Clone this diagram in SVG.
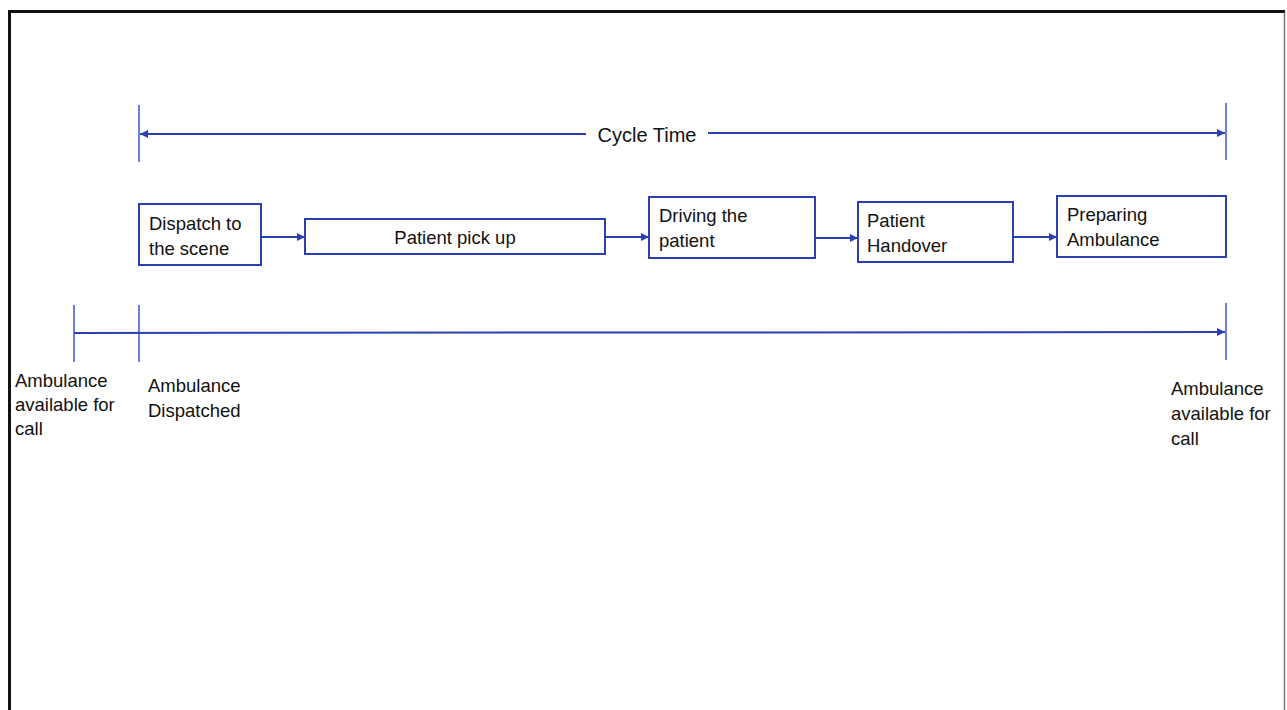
<svg xmlns="http://www.w3.org/2000/svg" width="1287" height="710" viewBox="0 0 1287 710">
<defs>
<marker id="ah" viewBox="0 0 10 10" refX="10" refY="5" markerWidth="9" markerHeight="8" markerUnits="userSpaceOnUse" orient="auto-start-reverse">
<path d="M0,0 L10,5 L0,10 z" fill="#2a40b0"/>
</marker>
<style>
.ln{stroke:#2a40b0;stroke-width:2;fill:none}
.tk{stroke:#3a55d0;stroke-width:1.5;fill:none}
.bx{fill:#fff;stroke:#2a40b0;stroke-width:2}
.t{font-family:"Liberation Sans",Arial,sans-serif;font-size:18.5px;fill:#111}
.c{font-family:"Liberation Sans",Arial,sans-serif;font-size:20px;fill:#111}
</style>
</defs>
<rect width="1287" height="710" fill="#fff"/>
<g id="frame">
<path d="M9.5,710 V11.5 H1285" stroke="#111" stroke-width="3" fill="none"/>
<path d="M1284.5,11.5 V710" stroke="#555" stroke-width="1.5" fill="none" opacity="0.8"/>
</g>
<g id="connectors">
<line class="tk" x1="139" y1="105" x2="139" y2="162"/>
<line class="tk" x1="1226" y1="103" x2="1226" y2="160"/>
<line class="ln" x1="140" y1="134" x2="586" y2="134" marker-start="url(#ah)"/>
<line class="ln" x1="708" y1="133" x2="1225" y2="133" marker-end="url(#ah)"/>
<line class="ln" x1="261" y1="237" x2="305" y2="237" marker-end="url(#ah)"/>
<line class="ln" x1="605" y1="237" x2="649" y2="237" marker-end="url(#ah)"/>
<line class="ln" x1="815" y1="238" x2="858" y2="238" marker-end="url(#ah)"/>
<line class="ln" x1="1013" y1="237" x2="1057" y2="237" marker-end="url(#ah)"/>
<line class="tk" x1="74" y1="305" x2="74" y2="362"/>
<line class="tk" x1="139" y1="305" x2="139" y2="362"/>
<line class="tk" x1="1226" y1="303" x2="1226" y2="360"/>
<line class="ln" x1="74" y1="333" x2="1225" y2="332" marker-end="url(#ah)"/>
</g>
<g id="cycle-time"><text class="c" x="647" y="142" text-anchor="middle">Cycle Time</text></g>
<g id="dispatch"><rect class="bx" x="139" y="204" width="122" height="61"/><text class="t" x="149" y="230">Dispatch to</text><text class="t" x="149" y="255">the scene</text></g>
<g id="pickup"><rect class="bx" x="305" y="219" width="300" height="35"/><text class="t" x="455" y="244" text-anchor="middle">Patient pick up</text></g>
<g id="driving"><rect class="bx" x="649" y="197" width="166" height="61"/><text class="t" x="659" y="222">Driving the</text><text class="t" x="659" y="247">patient</text></g>
<g id="handover"><rect class="bx" x="858" y="202" width="155" height="60"/><text class="t" x="867" y="227">Patient</text><text class="t" x="867" y="252">Handover</text></g>
<g id="preparing"><rect class="bx" x="1057" y="196" width="169" height="61"/><text class="t" x="1067" y="221">Preparing</text><text class="t" x="1067" y="246">Ambulance</text></g>
<g id="label-available-left"><text class="t" x="15" y="387">Ambulance</text><text class="t" x="15" y="411">available for</text><text class="t" x="15" y="435">call</text></g>
<g id="label-dispatched"><text class="t" x="148" y="392">Ambulance</text><text class="t" x="148" y="417">Dispatched</text></g>
<g id="label-available-right"><text class="t" x="1171" y="395">Ambulance</text><text class="t" x="1171" y="420">available for</text><text class="t" x="1171" y="445">call</text></g>
</svg>
